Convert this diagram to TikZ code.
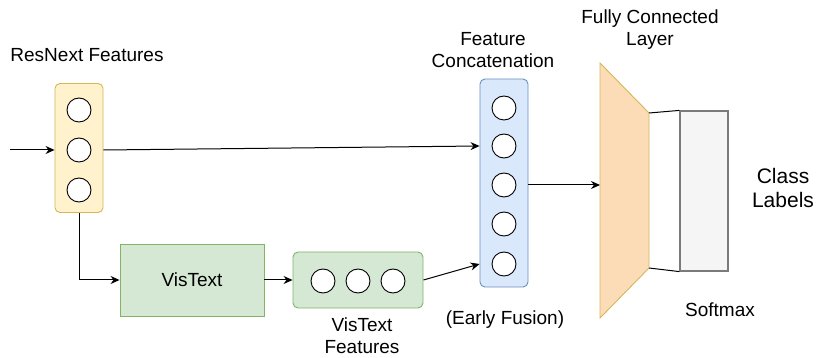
\documentclass[tikz,border=0pt]{standalone}
\usepackage{fontspec}
\setmainfont{Liberation Sans}
\usetikzlibrary{arrows.meta,positioning}

\definecolor{resfill}{HTML}{FFF2CC}
\definecolor{resline}{HTML}{D6B656}
\definecolor{catfill}{HTML}{DAE8FC}
\definecolor{catline}{HTML}{6C8EBF}
\definecolor{visfill}{HTML}{D5E8D4}
\definecolor{visline}{HTML}{82B366}
\definecolor{fcfill}{HTML}{FCDCB6}
\definecolor{smfill}{HTML}{F5F5F5}
\definecolor{smline}{HTML}{7A7A7A}

\tikzset{
  lbl/.style={align=center,inner sep=0pt,font=\fontsize{19}{22}\selectfont},
  neuron/.style={circle,draw=black,fill=white,line width=0.9pt,minimum size=24pt,inner sep=0pt},
  layerbox/.style={rectangle,rounded corners=5pt,line width=0.9pt,inner sep=0pt},
  conn/.style={line width=1pt,-{Stealth[length=9pt,width=8pt]}}
}

\begin{document}
\begin{tikzpicture}[x=1pt,y=-1pt]
\useasboundingbox (0,0) rectangle (817,358);
% resnext features
\node [layerbox,fill=resfill,draw=resline,minimum width=48pt,minimum height=129pt] (resbox) at (79,148) {};
\foreach \i/\y in {1/110,2/150,3/190}
  \node [neuron] (res\i) at (79,\y) {};
\node [lbl] (reslbl) at (87,55) {ResNext Features};
\coordinate (input) at (10,150);
% concatenation
\node [layerbox,fill=catfill,draw=catline,minimum width=48pt,minimum height=208pt] (catbox) at (504,183) {};
\foreach \i/\y in {1/108,2/146,3/185,4/224,5/264}
  \node [neuron] (cat\i) at (504,\y) {};
\node [lbl] (catlbl) at (493,50) {Feature\\Concatenation};
\node [lbl] (fusion) at (505,320) {(Early Fusion)};
% vistext
\node [rectangle,fill=visfill,draw=visline,line width=0.9pt,minimum width=144pt,minimum height=72pt,font=\fontsize{19}{22}\selectfont] (vistext) at (192,280) {VisText};
\node [layerbox,fill=visfill,draw=visline,minimum width=130pt,minimum height=56pt] (visbox) at (358,280) {};
\foreach \i/\x in {1/323,2/358,3/393}
  \node [neuron] (vis\i) at (\x,281) {};
\node [lbl] (vislbl) at (362,336) {VisText\\Features};
% fully connected layer
\coordinate (fctl) at (600,63);
\coordinate (fctr) at (649,113);
\coordinate (fcbr) at (649,268);
\coordinate (fcbl) at (600,318);
\draw [fill=fcfill,draw=resline,line width=0.9pt] (fctl) -- (fctr) -- (fcbr) -- (fcbl) -- cycle;
\node [lbl] (fclbl) at (650,30) {Fully Connected\\Layer};
% softmax
\node [rectangle,fill=smfill,draw=smline,line width=1.2pt,minimum width=48pt,minimum height=160pt] (softmax) at (704,191) {};
\node [lbl] (smlbl) at (720,310) {Softmax};
\node [lbl,font=\fontsize{21}{24}\selectfont] (classlbl) at (783,188) {Class\\Labels};
% connectors
\draw [conn] (input) -- (res2 -| resbox.west);
\draw [conn] (res2 -| resbox.east) -- (cat2 -| catbox.west);
\draw [conn] (resbox.south) |- (vistext.west);
\draw [conn] (vistext.east) -- (visbox.west);
\draw [conn] (visbox.east) -- (cat5 -| catbox.west);
\draw [conn] (cat3 -| catbox.east) -- (fcbl |- cat3);
\draw [line width=1pt] (fctr) -- (softmax.north west);
\draw [line width=1pt] (fcbr) -- (softmax.south west);
\end{tikzpicture}
\end{document}
